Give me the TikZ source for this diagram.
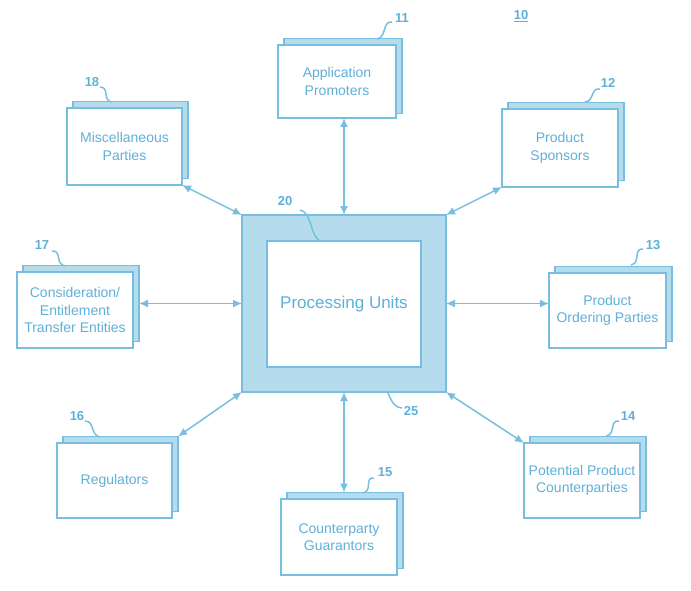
\documentclass[tikz,border=0pt]{standalone}
\usepackage{fontspec}
\setmainfont{Liberation Sans}
\usetikzlibrary{arrows.meta}
\definecolor{linec}{RGB}{120,190,222}
\definecolor{fillc}{RGB}{180,220,236}
\definecolor{textc}{RGB}{95,176,216}
\tikzset{
  backbox/.style={draw=linec, fill=fillc, line width=1.6pt, inner sep=0pt, outer sep=0pt},
  frontbox/.style={draw=linec, fill=white, line width=1.8pt, inner sep=0pt, outer sep=0pt,
    align=center, text=textc, font=\fontsize{14}{17.5}\selectfont},
  num/.style={text=textc, font=\bfseries\fontsize{13}{15}\selectfont, inner sep=0pt},
  leader/.style={draw=linec, line width=1.5pt},
  conn/.style={draw=linec, line width=1.5pt, {Latex[length=9pt,width=8pt]}-{Latex[length=9pt,width=8pt]}},
}
\begin{document}
\begin{tikzpicture}[x=1pt,y=-1pt]
\useasboundingbox (0,0) rectangle (691,591);

% center
\node[backbox, minimum width=204pt, minimum height=177pt] (pu) at (344,303.5) {};
\node[frontbox, minimum width=154pt, minimum height=126pt, font=\fontsize{17}{20}\selectfont] (pi) at (344,304) {Processing Units};

% back boxes
\node[backbox, minimum width=118pt, minimum height=75pt] (b11) at (343,76) {};
\node[backbox, minimum width=115pt, minimum height=77pt] (b18) at (130.5,140) {};
\node[backbox, minimum width=116pt, minimum height=78pt] (b12) at (566,141.5) {};
\node[backbox, minimum width=116pt, minimum height=76pt] (b17) at (81,303.5) {};
\node[backbox, minimum width=117pt, minimum height=75pt] (b13) at (613.5,304) {};
\node[backbox, minimum width=115pt, minimum height=75pt] (b16) at (120.5,474) {};
\node[backbox, minimum width=116pt, minimum height=75pt] (b14) at (588,474) {};
\node[backbox, minimum width=116pt, minimum height=76pt] (b15) at (345,530.5) {};

% front boxes
\node[frontbox, minimum width=118pt, minimum height=73pt] (f11) at (337,81.5) {Application\\Promoters};
\node[frontbox, minimum width=115pt, minimum height=77pt] (f18) at (124.5,146.5) {Miscellaneous\\Parties};
\node[frontbox, minimum width=116pt, minimum height=78pt] (f12) at (560,148) {Product\\Sponsors};
\node[frontbox, minimum width=116pt, minimum height=76pt] (f17) at (75,310) {Consideration/\\Entitlement\\Transfer Entities};
\node[frontbox, minimum width=117pt, minimum height=75pt] (f13) at (607.5,310.5) {Product\\Ordering Parties};
\node[frontbox, minimum width=115pt, minimum height=75pt] (f16) at (114.5,480.5) {Regulators};
\node[frontbox, minimum width=116pt, minimum height=75pt] (f14) at (582,480.5) {Potential Product\\Counterparties};
\node[frontbox, minimum width=116pt, minimum height=76pt] (f15) at (339,537) {Counterparty\\Guarantors};

% labels
\node[num] (n11) at (402,18) {11};
\node[num] (n12) at (608,83) {12};
\node[num] (n13) at (653,245) {13};
\node[num] (n14) at (628,416) {14};
\node[num] (n15) at (385,472) {15};
\node[num] (n16) at (77,416) {16};
\node[num] (n17) at (42,245) {17};
\node[num] (n18) at (92,82) {18};
\node[num] (n20) at (285,201) {20};
\node[num] (n25) at (411,411) {25};
\node[num] (n10) at (521,16) {\underline{10}};

% leaders
\draw[leader] (392,22) .. controls (382,21) and (387,37) .. (377,39);
\draw[leader] (600,89) .. controls (590,88) and (595,101) .. (585,102);
\draw[leader] (643,249) .. controls (633,248) and (641,263) .. (631,265);
\draw[leader] (619,421) .. controls (609,420) and (616,435) .. (606,436);
\draw[leader] (374,478) .. controls (364,477) and (373,491) .. (363,493);
\draw[leader] (85,421) .. controls (95,421) and (90,435) .. (100,437);
\draw[leader] (52,251) .. controls (62,250) and (55,264) .. (65,266);
\draw[leader] (100,87) .. controls (110,87) and (102,101) .. (112,102);
\draw[leader] (300,210) .. controls (312,212) and (310,236) .. (320,241);
\draw[leader] (388,393) .. controls (392,403) and (396,408) .. (402,408);

% connectors
\draw[conn] (pu.north) -- (pu.north |- f11.south);
\draw[conn] (pu.south) -- (pu.south |- b15.north);
\draw[conn] (pu.west) -- (pu.west -| b17.east);
\draw[conn] (pu.east) -- (pu.east -| f13.west);
\draw[conn] (pu.north west) -- (f18.south east);
\draw[conn] (pu.north east) -- (f12.south west);
\draw[conn] (pu.south west) -- (b16.north east);
\draw[conn] (pu.south east) -- (f14.north west);
\end{tikzpicture}
\end{document}
